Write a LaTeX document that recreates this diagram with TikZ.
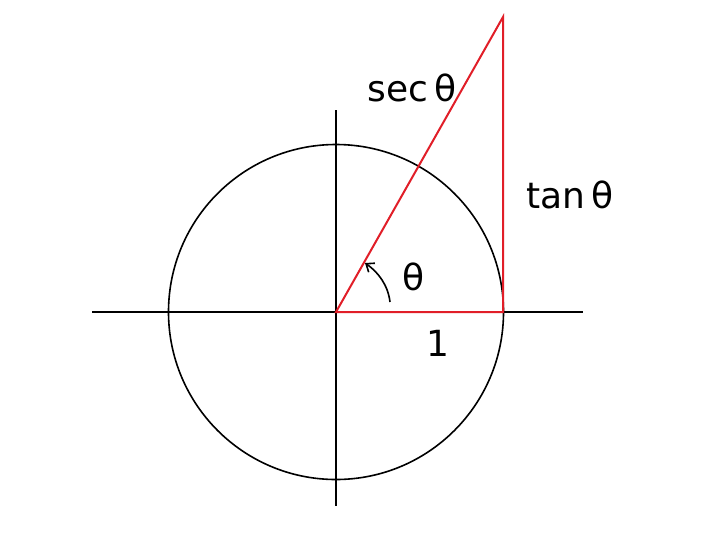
\documentclass[tikz,border=0pt]{standalone}
\usepackage{fontspec}
\setmainfont{DejaVu Sans}
\usetikzlibrary{arrows.meta}
\definecolor{redline}{RGB}{225,30,40}
\tikzset{
  axis/.style={line width=1.6pt, black},
  redseg/.style={line width=2pt, redline},
  lbl/.style={font=\fontsize{36}{40}\selectfont, inner sep=0pt}
}
\begin{document}
\begin{tikzpicture}[x=1pt,y=-1pt]
\useasboundingbox[fill=white] (0,0) rectangle (720,539);
\coordinate (O) at (336,312);
\coordinate (A) at (503,312);
\coordinate (T) at (503,17);
\coordinate (L) at (92,312);
\coordinate (R) at (583,312);
\coordinate (U) at (336,110);
\coordinate (D) at (336,506);
\draw[axis] (L) -- (R);
\draw[axis] (U) -- (D);
\draw[axis] (O) circle[radius=167.5];
\draw[redseg] (O) -- (A) -- (T) -- cycle;
\coordinate (a1) at (390,302);
\coordinate (a2) at (365,263);
\draw[line width=1.6pt, -{Straight Barb[length=7pt,width=11pt]}] (a1) .. controls (388,285) and (378,272) .. (a2);
\node[lbl] (sec) at (412,88) {sec\,θ};
\node[lbl] (tan) at (570,195) {tan\,θ};
\node[lbl] (th) at (414,277) {θ};
\node[lbl] (one) at (438,343) {1};
\end{tikzpicture}
\end{document}
